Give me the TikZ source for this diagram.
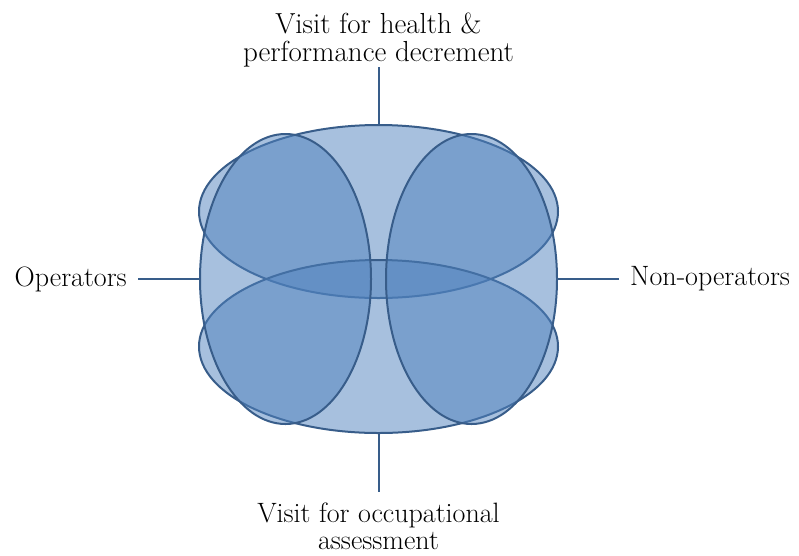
\documentclass[tikz,border=0pt]{standalone}
\usetikzlibrary{shapes.geometric,positioning}

\definecolor{ellfill}{HTML}{4F81BD}
\definecolor{ellline}{HTML}{385D8A}

\tikzset{
  ell/.style={ellipse, draw=ellline, line width=2pt, fill=ellfill, fill opacity=0.5,
    inner sep=0pt, outer sep=0pt},
  lbl/.style={align=center, inner sep=11pt, font=\fontsize{28}{26.5}\selectfont},
  conn/.style={draw=ellline, line width=2pt}
}

\begin{document}
\begin{tikzpicture}[x=1pt,y=-1pt]
        \useasboundingbox (0,0) rectangle (799,555);

        % Draw the four ellipses
        \node[ell, minimum width=359pt, minimum height=173pt] (hlth) at (378.5,211.5) {};
        \node[ell, minimum width=359pt, minimum height=173pt] (occ) at (378.5,346.5) {};
        \node[ell, minimum width=171pt, minimum height=290pt] (ops) at (285.5,279) {};
        \node[ell, minimum width=171pt, minimum height=290pt] (nonops) at (471.5,279) {};

        % Labels round the outside
        \node[lbl, inner ysep=0pt, font=\fontsize{29}{28}\selectfont, above=58pt of hlth] (hlthtxt)
          {Visit for health \&\\performance decrement};
        \node[lbl, below=59pt of occ] (occtxt) {Visit for occupational\\assessment};
        \node[lbl, left=62pt of ops] (opstxt) {Operators};
        \node[lbl, right=62pt of nonops] (nonopstxt) {Non-operators};

        % Connect the labels with lines
        \draw[conn] (hlth) -- (hlthtxt);
        \draw[conn] (occ) -- (occtxt);
        \draw[conn] (ops) -- (opstxt);
        \draw[conn] (nonops) -- (nonopstxt);

\end{tikzpicture}
\end{document}
